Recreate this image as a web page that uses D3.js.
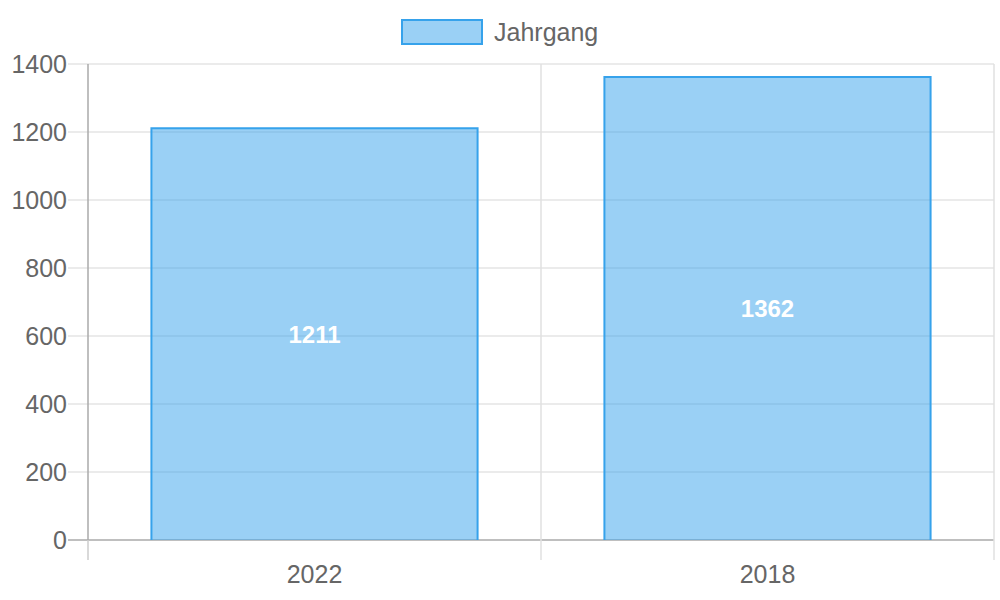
<!DOCTYPE html>
<html>
<head>
<meta charset="utf-8">
<script src="https://cdn.jsdelivr.net/npm/d3@7"></script>
<style>
  body { margin: 0; background: #fff; }
  text { font-family: "Liberation Sans", Arial, sans-serif; }
</style>
</head>
<body>
<svg width="1000" height="600"></svg>
<script>
var years = ["2022", "2018"];
var counts = [1211, 1362];
var yTicks = [0, 200, 400, 600, 800, 1000, 1200, 1400];
var seriesName = "Jahrgang";

// note: "top" is taken by window.top, so use plot* names
var plotLeft = 88, plotRight = 994, plotTop = 64, plotBottom = 540;
var svg = d3.select("svg");

var xScale = d3.scaleBand()
  .domain(years)
  .range([plotLeft, plotRight]);

var yScale = d3.scaleLinear()
  .domain([0, 1400])
  .range([plotBottom, plotTop]);

// horizontal grid + tick marks
svg.selectAll(".hgrid")
  .data(yTicks)
  .enter()
  .append("line")
    .attr("x1", plotLeft - 20)
    .attr("x2", plotRight)
    .attr("y1", d => yScale(d))
    .attr("y2", d => yScale(d))
    .attr("stroke", d => d === 0 ? "#aaa" : "#e5e5e5")
    .attr("stroke-width", 1.5);

// vertical grid lines at category boundaries
var bounds = years.map(y => xScale(y) + xScale.bandwidth());
svg.selectAll(".vgrid")
  .data(bounds)
  .enter()
  .append("line")
    .attr("x1", d => d)
    .attr("x2", d => d)
    .attr("y1", plotTop)
    .attr("y2", plotBottom + 20)
    .attr("stroke", "#e0e0e0")
    .attr("stroke-width", 1.5);

// y axis line
svg.append("line")
  .attr("x1", plotLeft).attr("x2", plotLeft)
  .attr("y1", plotTop).attr("y2", plotBottom)
  .attr("stroke", "#aaa").attr("stroke-width", 1.5);
svg.append("line")
  .attr("x1", plotLeft).attr("x2", plotLeft)
  .attr("y1", plotBottom).attr("y2", plotBottom + 20)
  .attr("stroke", "#ccc").attr("stroke-width", 1.5);

// y tick labels
svg.selectAll(".ylab")
  .data(yTicks)
  .enter()
  .append("text")
    .attr("x", plotLeft - 21)
    .attr("y", d => yScale(d))
    .attr("dy", "0.35em")
    .attr("text-anchor", "end")
    .attr("font-size", 25)
    .attr("fill", "#666")
    .text(d => d);

// x tick labels
svg.selectAll(".xlab")
  .data(years)
  .enter()
  .append("text")
    .attr("x", d => xScale(d) + xScale.bandwidth() / 2)
    .attr("y", 574)
    .attr("dy", "0.35em")
    .attr("text-anchor", "middle")
    .attr("font-size", 25)
    .attr("fill", "#666")
    .text(d => d);

// bars
var barW = xScale.bandwidth() * 0.72;
var bars = svg.selectAll(".bar")
  .data(years)
  .enter()
  .append("g");

bars.append("rect")
  .attr("x", d => xScale(d) + (xScale.bandwidth() - barW) / 2)
  .attr("y", (d, i) => yScale(counts[i]))
  .attr("width", barW)
  .attr("height", (d, i) => plotBottom - yScale(counts[i]))
  .attr("fill", "rgba(54,162,235,0.5)");

bars.append("path")
  .attr("d", (d, i) => {
    var x0 = xScale(d) + (xScale.bandwidth() - barW) / 2;
    var x1 = x0 + barW;
    var y0 = yScale(counts[i]);
    return "M" + x0 + "," + plotBottom + "V" + y0 + "H" + x1 + "V" + plotBottom;
  })
  .attr("fill", "none")
  .attr("stroke", "rgb(54,162,235)")
  .attr("stroke-width", 2);

bars.append("text")
  .attr("x", d => xScale(d) + xScale.bandwidth() / 2)
  .attr("y", (d, i) => (yScale(counts[i]) + plotBottom) / 2)
  .attr("dy", "0.35em")
  .attr("text-anchor", "middle")
  .attr("font-size", 24)
  .attr("font-weight", "bold")
  .attr("fill", "#fff")
  .text((d, i) => counts[i]);

// legend
svg.append("rect")
  .attr("x", 402).attr("y", 20)
  .attr("width", 80).attr("height", 24)
  .attr("fill", "rgba(54,162,235,0.5)")
  .attr("stroke", "rgb(54,162,235)")
  .attr("stroke-width", 2);
svg.append("text")
  .attr("x", 494).attr("y", 32)
  .attr("dy", "0.35em")
  .attr("font-size", 25)
  .attr("fill", "#666")
  .text(seriesName);
</script>
</body>
</html>
